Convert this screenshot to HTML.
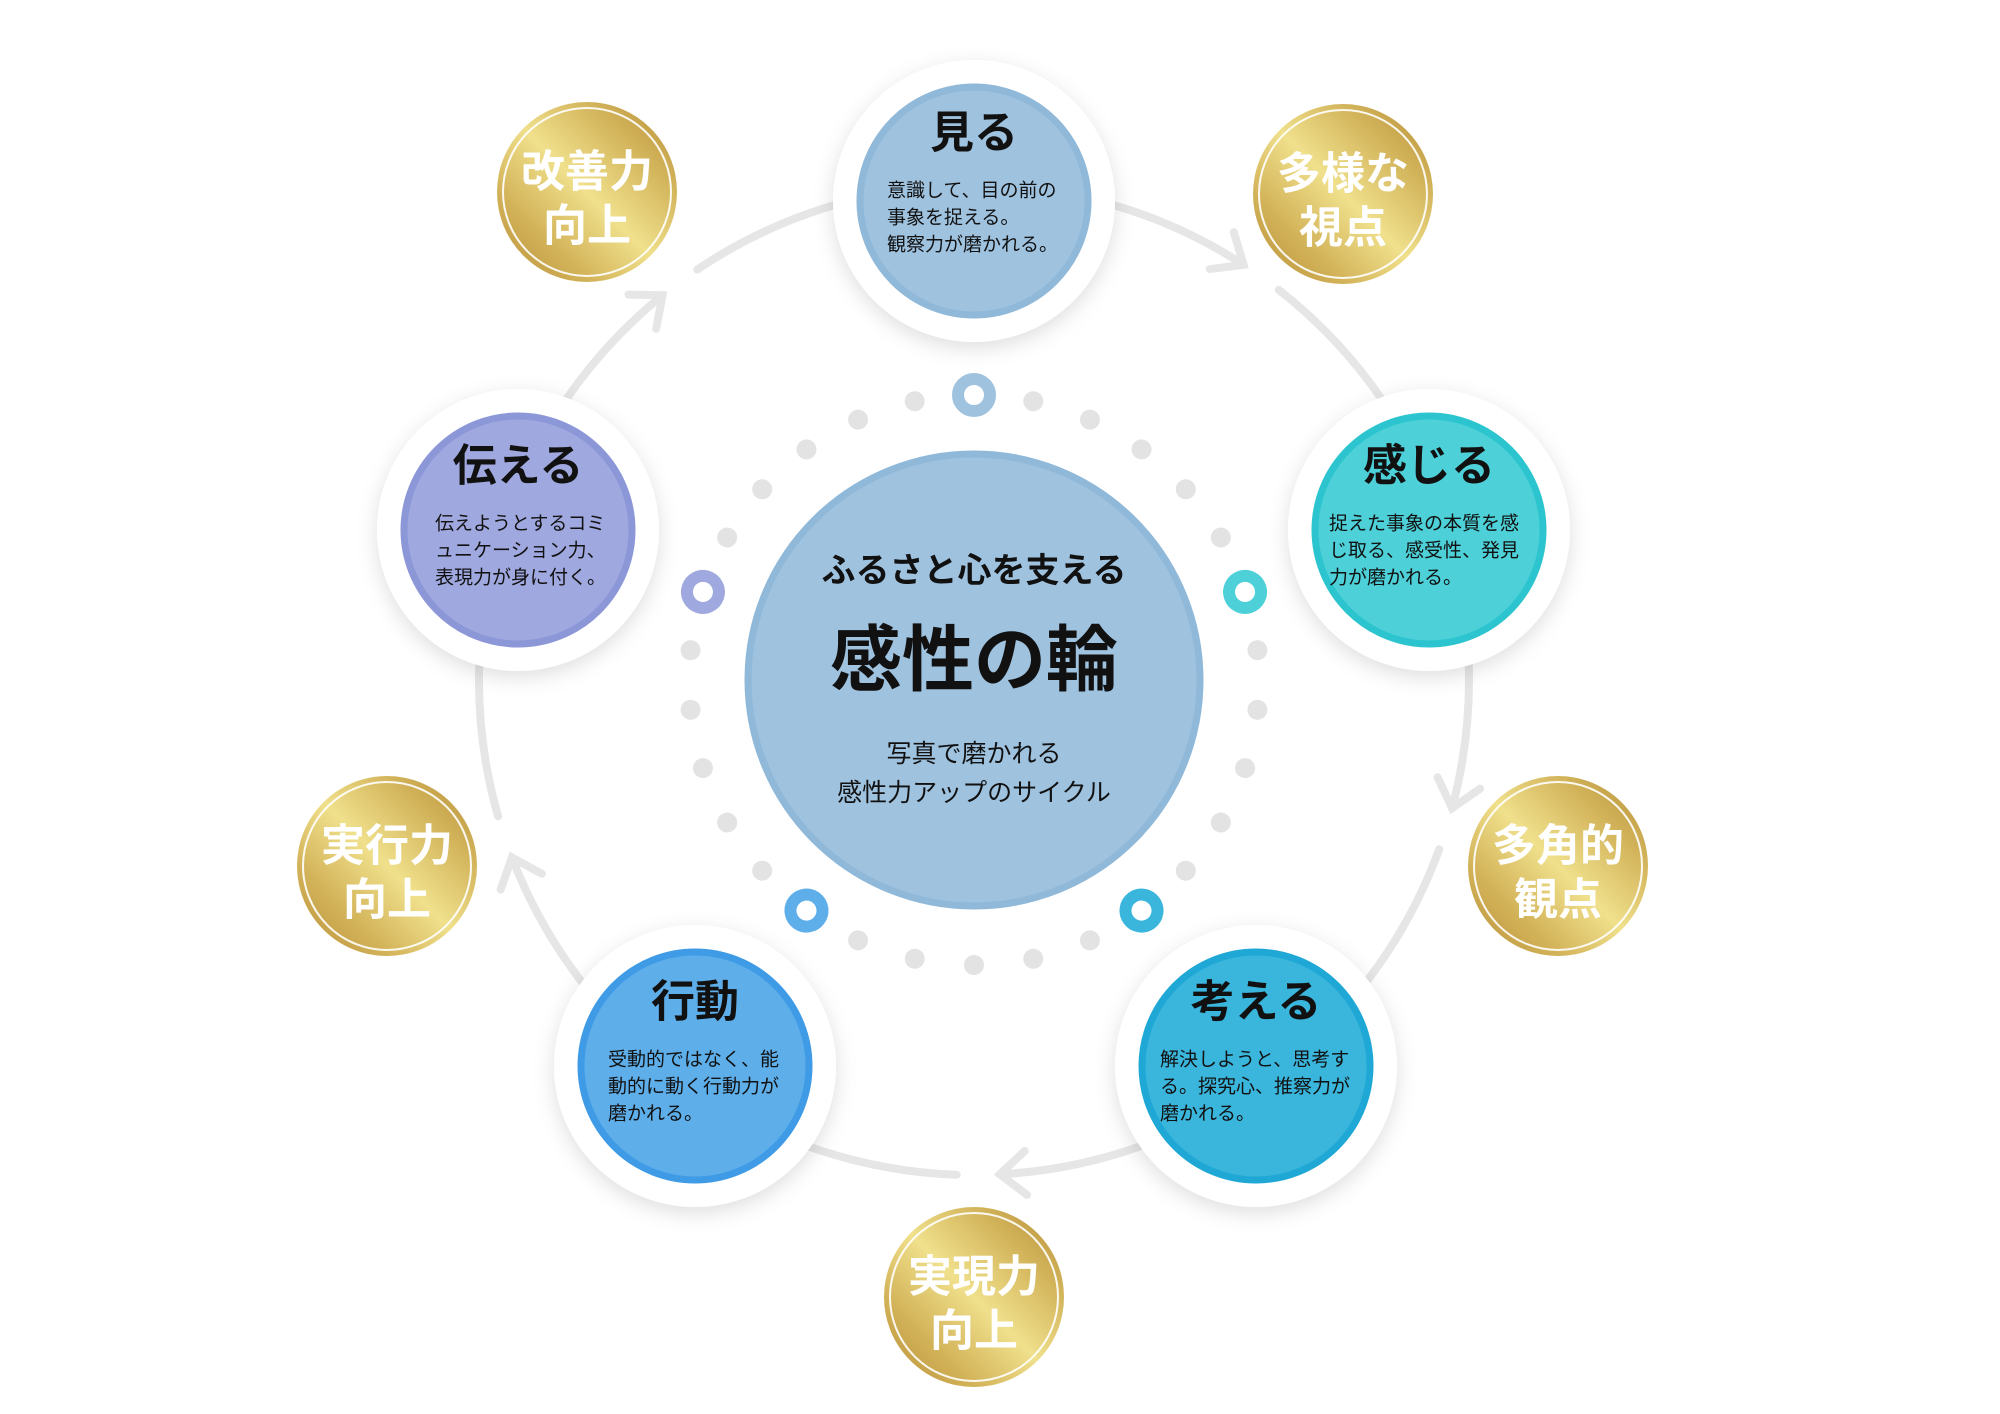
<!DOCTYPE html>
<html><head><meta charset="utf-8"><style>
html,body{margin:0;padding:0;background:#fff;}
svg{display:block;}
text{font-family:"Liberation Sans","Noto Sans CJK JP",sans-serif;}
</style></head><body>
<svg width="2000" height="1414" viewBox="0 0 2000 1414" xmlns="http://www.w3.org/2000/svg">
<defs>
<filter id="sh" x="-30%" y="-30%" width="160%" height="160%">
<feDropShadow dx="0" dy="6" stdDeviation="10" flood-color="#000" flood-opacity="0.13"/>
</filter>
<linearGradient id="gold" x1="0" y1="1" x2="1" y2="0">
<stop offset="0" stop-color="#b88e38"/>
<stop offset="0.25" stop-color="#d2b258"/>
<stop offset="0.5" stop-color="#f0e08c"/>
<stop offset="0.75" stop-color="#d3b55c"/>
<stop offset="1" stop-color="#b68c36"/>
</linearGradient>
</defs>
<g transform="translate(-4,-2)">
<!-- ring arcs -->
<g fill="none" stroke="#e6e6e6" stroke-width="8" stroke-linecap="round">
<path d="M1282.8,291.9 A495,495 0 0 1 1456.1,810.1"/>
<path d="M1443.2,851.3 A495,495 0 0 1 1003.9,1176.3"/>
<path d="M960.7,1176.7 A495,495 0 0 1 515.9,859.4"/>
<path d="M502.1,818.4 A495,495 0 0 1 666.5,297.3"/>
<path d="M701.2,271.6 A495,495 0 0 1 1247.6,266.8"/>
<g stroke-linejoin="miter">
<polyline points="-26,-22 0,0 -26,22" transform="translate(1456.1,810.1) rotate(105)"/>
<polyline points="-26,-22 0,0 -26,22" transform="translate(1003.9,1176.3) rotate(177)"/>
<polyline points="-26,-22 0,0 -26,22" transform="translate(515.9,859.4) rotate(249)"/>
<polyline points="-26,-22 0,0 -26,22" transform="translate(666.5,297.3) rotate(321)"/>
<polyline points="-26,-22 0,0 -26,22" transform="translate(1247.6,266.8) rotate(393)"/>
</g>
</g>

<!-- dots -->
<g fill="#e3e3e3">
<circle cx="978" cy="397" r="10" transform="rotate(12 978 682)"/>
<circle cx="978" cy="397" r="10" transform="rotate(24 978 682)"/>
<circle cx="978" cy="397" r="10" transform="rotate(36 978 682)"/>
<circle cx="978" cy="397" r="10" transform="rotate(48 978 682)"/>
<circle cx="978" cy="397" r="10" transform="rotate(60 978 682)"/>
<circle cx="978" cy="397" r="10" transform="rotate(84 978 682)"/>
<circle cx="978" cy="397" r="10" transform="rotate(96 978 682)"/>
<circle cx="978" cy="397" r="10" transform="rotate(108 978 682)"/>
<circle cx="978" cy="397" r="10" transform="rotate(120 978 682)"/>
<circle cx="978" cy="397" r="10" transform="rotate(132 978 682)"/>
<circle cx="978" cy="397" r="10" transform="rotate(156 978 682)"/>
<circle cx="978" cy="397" r="10" transform="rotate(168 978 682)"/>
<circle cx="978" cy="397" r="10" transform="rotate(180 978 682)"/>
<circle cx="978" cy="397" r="10" transform="rotate(192 978 682)"/>
<circle cx="978" cy="397" r="10" transform="rotate(204 978 682)"/>
<circle cx="978" cy="397" r="10" transform="rotate(228 978 682)"/>
<circle cx="978" cy="397" r="10" transform="rotate(240 978 682)"/>
<circle cx="978" cy="397" r="10" transform="rotate(252 978 682)"/>
<circle cx="978" cy="397" r="10" transform="rotate(264 978 682)"/>
<circle cx="978" cy="397" r="10" transform="rotate(276 978 682)"/>
<circle cx="978" cy="397" r="10" transform="rotate(300 978 682)"/>
<circle cx="978" cy="397" r="10" transform="rotate(312 978 682)"/>
<circle cx="978" cy="397" r="10" transform="rotate(324 978 682)"/>
<circle cx="978" cy="397" r="10" transform="rotate(336 978 682)"/>
<circle cx="978" cy="397" r="10" transform="rotate(348 978 682)"/>
</g>
<g fill="#fff" stroke-width="12">
<circle cx="978" cy="397" r="16" stroke="#9fc2df"/>
<circle cx="978" cy="397" r="16" stroke="#4dd0d8" transform="rotate(72 978 682)"/>
<circle cx="978" cy="397" r="16" stroke="#3ab5dc" transform="rotate(144 978 682)"/>
<circle cx="978" cy="397" r="16" stroke="#5eaeea" transform="rotate(216 978 682)"/>
<circle cx="978" cy="397" r="16" stroke="#9fa8df" transform="rotate(288 978 682)"/>
</g>

<!-- center -->
<circle cx="978" cy="682" r="226" fill="#9fc2df" stroke="#8fb8d9" stroke-width="7"/>
<text x="978" y="573" font-size="34" font-weight="bold" text-anchor="middle" dominant-baseline="central" fill="#111">ふるさと心を支える</text>
<text x="978" y="663" font-size="72" font-weight="bold" text-anchor="middle" dominant-baseline="central" fill="#111">感性の輪</text>
<text x="978" y="756" font-size="25" text-anchor="middle" dominant-baseline="central" fill="#111">写真で磨かれる</text>
<text x="978" y="795" font-size="25" text-anchor="middle" dominant-baseline="central" fill="#111">感性力アップのサイクル</text>

<!-- nodes -->
<g>
<circle cx="978" cy="203" r="141" fill="#fff" filter="url(#sh)"/>
<circle cx="978" cy="203" r="114" fill="#9fc2df" stroke="#8fb8d9" stroke-width="7"/>
<text x="978" y="135" font-size="44" font-weight="bold" text-anchor="middle" dominant-baseline="central" fill="#111">見る</text>
<g font-size="19" fill="#111" dominant-baseline="central">
<text x="891" y="193">意識して、目の前の</text>
<text x="891" y="220">事象を捉える。</text>
<text x="891" y="247">観察力が磨かれる。</text>
</g>
</g>
<g>
<circle cx="1433" cy="532" r="141" fill="#fff" filter="url(#sh)"/>
<circle cx="1433" cy="532" r="114" fill="#4dd0d8" stroke="#2cc5cf" stroke-width="7"/>
<text x="1433" y="468" font-size="44" font-weight="bold" text-anchor="middle" dominant-baseline="central" fill="#111">感じる</text>
<g font-size="19" fill="#111" dominant-baseline="central">
<text x="1333" y="526">捉えた事象の本質を感</text>
<text x="1333" y="553">じ取る、感受性、発見</text>
<text x="1333" y="580">力が磨かれる。</text>
</g>
</g>
<g>
<circle cx="1260" cy="1068" r="141" fill="#fff" filter="url(#sh)"/>
<circle cx="1260" cy="1068" r="114" fill="#3ab5dc" stroke="#1fa8d6" stroke-width="7"/>
<text x="1260" y="1004" font-size="44" font-weight="bold" text-anchor="middle" dominant-baseline="central" fill="#111">考える</text>
<g font-size="19" fill="#111" dominant-baseline="central">
<text x="1164" y="1062">解決しようと、思考す</text>
<text x="1164" y="1089">る。探究心、推察力が</text>
<text x="1164" y="1116">磨かれる。</text>
</g>
</g>
<g>
<circle cx="699" cy="1068" r="141" fill="#fff" filter="url(#sh)"/>
<circle cx="699" cy="1068" r="114" fill="#5eaeea" stroke="#3f9be6" stroke-width="7"/>
<text x="699" y="1004" font-size="44" font-weight="bold" text-anchor="middle" dominant-baseline="central" fill="#111">行動</text>
<g font-size="19" fill="#111" dominant-baseline="central">
<text x="612" y="1062">受動的ではなく、能</text>
<text x="612" y="1089">動的に動く行動力が</text>
<text x="612" y="1116">磨かれる。</text>
</g>
</g>
<g>
<circle cx="522" cy="532" r="141" fill="#fff" filter="url(#sh)"/>
<circle cx="522" cy="532" r="114" fill="#9fa8df" stroke="#8c97d8" stroke-width="7"/>
<text x="522" y="468" font-size="44" font-weight="bold" text-anchor="middle" dominant-baseline="central" fill="#111">伝える</text>
<g font-size="19" fill="#111" dominant-baseline="central">
<text x="439" y="526">伝えようとするコミ</text>
<text x="439" y="553">ュニケーション力、</text>
<text x="439" y="580">表現力が身に付く。</text>
</g>
</g>

<!-- gold -->
<g font-size="44" font-weight="bold" fill="#fff" text-anchor="middle" dominant-baseline="central">
<g>
<circle cx="591" cy="194" r="90" fill="url(#gold)"/>
<circle cx="591" cy="194" r="84" fill="none" stroke="#fff" stroke-width="2" opacity="0.9"/>
<text x="591" y="174">改善力</text><text x="591" y="228">向上</text>
</g>
<g>
<circle cx="1347" cy="196" r="90" fill="url(#gold)"/>
<circle cx="1347" cy="196" r="84" fill="none" stroke="#fff" stroke-width="2" opacity="0.9"/>
<text x="1347" y="176">多様な</text><text x="1347" y="230">視点</text>
</g>
<g>
<circle cx="1562" cy="868" r="90" fill="url(#gold)"/>
<circle cx="1562" cy="868" r="84" fill="none" stroke="#fff" stroke-width="2" opacity="0.9"/>
<text x="1562" y="848">多角的</text><text x="1562" y="902">観点</text>
</g>
<g>
<circle cx="978" cy="1299" r="90" fill="url(#gold)"/>
<circle cx="978" cy="1299" r="84" fill="none" stroke="#fff" stroke-width="2" opacity="0.9"/>
<text x="978" y="1279">実現力</text><text x="978" y="1333">向上</text>
</g>
<g>
<circle cx="391" cy="868" r="90" fill="url(#gold)"/>
<circle cx="391" cy="868" r="84" fill="none" stroke="#fff" stroke-width="2" opacity="0.9"/>
<text x="391" y="848">実行力</text><text x="391" y="902">向上</text>
</g>
</g>
</g>
</svg>
</body></html>
